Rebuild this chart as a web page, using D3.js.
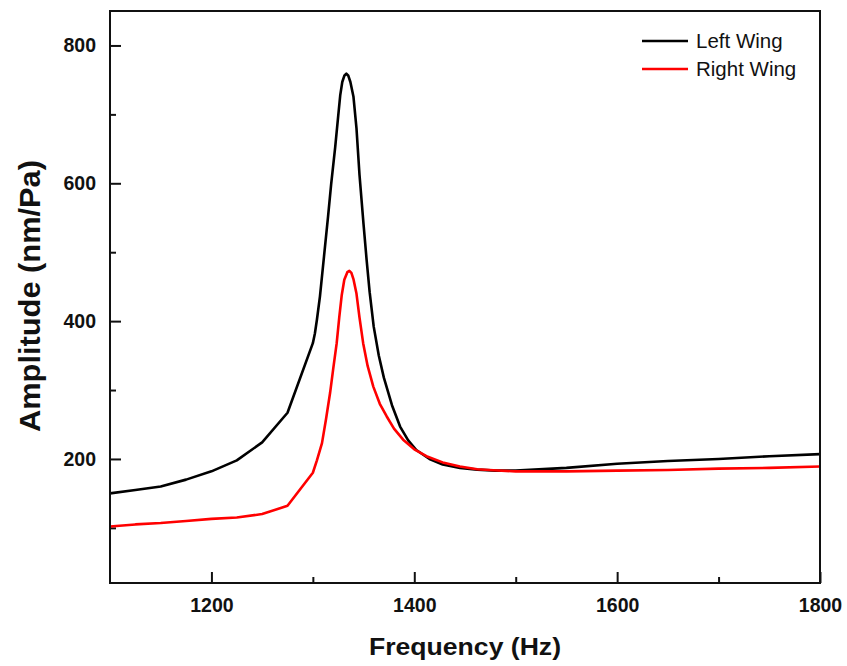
<!DOCTYPE html>
<html>
<head>
<meta charset="utf-8">
<script src="https://cdn.jsdelivr.net/npm/d3@7"></script>
<style>
    body { margin: 0; background: #fff; }
    svg text { font-family: Arial, "Liberation Sans", sans-serif; fill: #111; }
</style>
</head>
<body>
<div id="chart"></div>
<script>
'use strict';

// frequency (Hz) / amplitude (nm/Pa)
var leftFreq = [1100, 1125, 1150, 1175, 1200, 1225, 1250, 1275, 1300, 1302, 1304, 1307, 1311, 1315, 1318,
                1322, 1325, 1327, 1329, 1331, 1333, 1335, 1337, 1340, 1343, 1346, 1350, 1353, 1356,
                1360, 1365, 1370, 1378, 1386, 1394, 1402, 1415, 1428, 1445, 1462, 1480, 1500, 1550,
                1600, 1650, 1700, 1750, 1800];
var leftAmp  = [150, 155, 160, 170, 182, 198, 224, 267, 368, 382, 402, 436, 494, 552, 598,
                652, 698, 728, 747, 756, 759, 756, 747, 726, 680, 612, 540, 489, 442,
                392, 350, 318, 278, 247, 227, 213, 200, 192, 187, 184.5, 183, 183, 187,
                193, 197, 200, 204, 207];

var rightFreq = [1100, 1125, 1150, 1175, 1200, 1225, 1250, 1275, 1300, 1304, 1309, 1313, 1317, 1320,
                 1323.5, 1326, 1328.5, 1331, 1334, 1336, 1338, 1340, 1343, 1346, 1349.6, 1354, 1359.6,
                 1366, 1372.7, 1380, 1389, 1400, 1412, 1428, 1445, 1462, 1478, 1500, 1550, 1600, 1650,
                 1700, 1750, 1800];
var rightAmp  = [102, 105, 107, 110, 113, 115, 120, 132, 180, 198, 223, 258, 296, 330,
                 368, 405, 438, 460, 471, 473, 470, 461, 440, 405, 368, 335, 305,
                 280, 262, 244, 228, 214, 204, 195, 189, 185, 183.5, 182, 182, 183, 184,
                 186, 187, 189];

var xTicks      = [1200, 1400, 1600, 1800];
var xMinorTicks = [1300, 1500, 1700];
var yTicks      = [200, 400, 600, 800];
var yMinorTicks = [100, 300, 500, 700];

var seriesNames  = ["Left Wing", "Right Wing"];
var seriesColors = ["#000000", "#ff0000"];

var W = 847, H = 666;
var margin = {top: 11, right: 27, bottom: 83, left: 110};
var width  = W - margin.left - margin.right,
    height = H - margin.top - margin.bottom;

var svg = d3.select("#chart").append("svg")
    .attr("width", W)
    .attr("height", H);

var g = svg.append("g")
    .attr("transform", "translate(" + margin.left + "," + margin.top + ")");

var xScale = d3.scaleLinear().domain([1100, 1800]).range([0, width]),
    yScale = d3.scaleLinear().domain([20, 850]).range([height, 0]);

function styleAxis(sel) {
    sel.select(".domain").remove();
    sel.selectAll(".tick line").attr("stroke", "#111").attr("stroke-width", 2);
    sel.selectAll(".tick text")
        .style("font-size", "19.5px")
        .style("font-weight", "bold")
        .attr("fill", "#111");
}

// major ticks point inwards
g.append("g")
    .attr("transform", "translate(0," + height + ")")
    .call(d3.axisBottom(xScale).tickValues(xTicks).tickSize(-11).tickPadding(15).tickFormat(d3.format("d")))
    .call(styleAxis);
g.append("g")
    .call(d3.axisLeft(yScale).tickValues(yTicks).tickSize(-11).tickPadding(14).tickFormat(d3.format("d")))
    .call(styleAxis);

// minor ticks, no labels
g.append("g")
    .attr("transform", "translate(0," + height + ")")
    .call(d3.axisBottom(xScale).tickValues(xMinorTicks).tickSize(-6).tickFormat(""))
    .call(styleAxis);
g.append("g")
    .call(d3.axisLeft(yScale).tickValues(yMinorTicks).tickSize(-6).tickFormat(""))
    .call(styleAxis);

// curves (straight segments, as in the source plot)
var line = d3.line()
    .x(function(d){ return xScale(d[0]); })
    .y(function(d){ return yScale(d[1]); });

var datasets = [
    d3.zip(leftFreq, leftAmp),
    d3.zip(rightFreq, rightAmp)
];

g.selectAll("path.curve")
    .data(datasets)
    .enter().append("path")
        .attr("class", "curve")
        .attr("fill", "none")
        .attr("stroke", function(d, i){ return seriesColors[i]; })
        .attr("stroke-width", 2.6)
        .attr("stroke-linejoin", "round")
        .attr("d", line);

// frame
g.append("rect")
    .attr("width", width)
    .attr("height", height)
    .attr("fill", "none")
    .attr("stroke", "#111")
    .attr("stroke-width", 2);

// legend
var legend = g.append("g")
    .attr("transform", "translate(" + (532) + "," + (30) + ")");
seriesNames.forEach(function(name, i) {
    var row = legend.append("g").attr("transform", "translate(0," + (i * 28) + ")");
    row.append("line")
        .attr("x1", 0).attr("x2", 46)
        .attr("stroke", seriesColors[i])
        .attr("stroke-width", 2.6);
    row.append("text")
        .attr("x", 54)
        .attr("dy", "0.36em")
        .style("font-size", "20.5px")
        .text(name);
});

// axis titles
svg.append("text")
    .attr("x", margin.left + width / 2)
    .attr("y", 655)
    .attr("text-anchor", "middle")
    .attr("textLength", 192)
    .attr("lengthAdjust", "spacingAndGlyphs")
    .style("font-size", "24px")
    .style("font-weight", "bold")
    .text("Frequency (Hz)");

svg.append("text")
    .attr("transform", "translate(39.5,296) rotate(-90)")
    .attr("text-anchor", "middle")
    .attr("textLength", 272)
    .attr("lengthAdjust", "spacingAndGlyphs")
    .style("font-size", "29px")
    .style("font-weight", "bold")
    .text("Amplitude (nm/Pa)");
</script>
</body>
</html>
